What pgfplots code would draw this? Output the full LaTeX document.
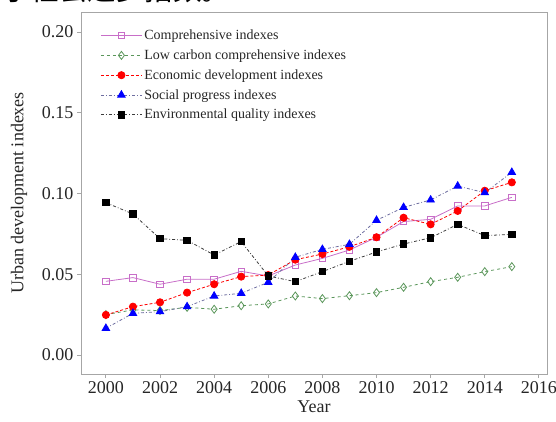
\documentclass[border=0pt]{standalone}
\usepackage{fontspec}
\setmainfont{Liberation Serif}
\newfontfamily\cjk{Noto Sans CJK SC}
\usepackage{pgfplots}
\pgfplotsset{compat=1.18}
\definecolor{compc}{RGB}{200,110,200}
\definecolor{lowc}{RGB}{90,150,90}
\definecolor{socline}{RGB}{110,110,160}
\definecolor{envline}{RGB}{60,60,60}
\begin{document}
\begin{tikzpicture}
\useasboundingbox (0pt,0pt) rectangle (556pt,421pt);
\node[anchor=base west, inner sep=0, font=\cjk\fontsize{28.5}{28.5}\selectfont] at (2pt,420pt) {于社会进步指数。};
\begin{axis}[
  at={(81pt,47pt)}, anchor=south west, scale only axis,
  width=466pt, height=362pt,
  xmin=1999.08, xmax=2016.3, ymin=-0.0118, ymax=0.2124,
  xtick={2000,2002,2004,2006,2008,2010,2012,2014,2016},
  ytick={0,0.05,0.1,0.15,0.2},
  /pgf/number format/assume math mode=true,
  xticklabel style={/pgf/number format/1000 sep={}},
  yticklabel style={/pgf/number format/.cd, fixed, fixed zerofill, precision=2},
  tick label style={font=\fontsize{18}{18}\selectfont, color=black!85},
  label style={font=\fontsize{18}{18}\selectfont, color=black!85},
  xlabel={Year}, ylabel={Urban development indexes},
  ylabel shift=8pt,
  tick align=outside, xtick pos=lower, ytick pos=left,
  major tick length=4pt,
  tick style={gray!70, line width=0.8pt},
  axis line style={gray!70, line width=0.9pt},
  legend style={at={(0.035,0.962)}, anchor=north west, draw=none, fill=none,
    font=\fontsize{14}{14}\selectfont, row sep=4.6pt, text=black!85},
  legend cell align=left,
  legend image code/.code={\draw[mark repeat=2,mark phase=2] plot coordinates {(0pt,0pt) (20.5pt,0pt) (41pt,0pt)};},
  every axis plot/.append style={line width=0.8pt},
]
\addplot[color=compc, solid, mark=square, mark size=3.3pt, mark options={solid, fill=white}] coordinates {
(2000,0.0456) (2001,0.0479) (2002,0.0438) (2003,0.0469) (2004,0.0469) (2005,0.0518) (2006,0.0489) (2007,0.0557)
(2008,0.0598) (2009,0.0650) (2010,0.0729) (2011,0.0826) (2012,0.0840) (2013,0.0923) (2014,0.0923) (2015,0.0976)};
\addlegendentry{Comprehensive indexes}
\addplot[color=lowc, dashed, mark=diamond, mark size=4pt, mark options={solid, fill=white}] coordinates {
(2000,0.0250) (2001,0.0279) (2002,0.0275) (2003,0.0295) (2004,0.0283) (2005,0.0305) (2006,0.0316) (2007,0.0365)
(2008,0.0349) (2009,0.0367) (2010,0.0386) (2011,0.0419) (2012,0.0454) (2013,0.0481) (2014,0.0516) (2015,0.0547)};
\addlegendentry{Low carbon comprehensive indexes}
\addplot[color=red, densely dashed, mark=*, mark size=3.6pt, mark options={solid, fill=red}] coordinates {
(2000,0.0248) (2001,0.0299) (2002,0.0326) (2003,0.0386) (2004,0.0438) (2005,0.0485) (2006,0.0495) (2007,0.0590)
(2008,0.0625) (2009,0.0670) (2010,0.0729) (2011,0.0850) (2012,0.0809) (2013,0.0892) (2014,0.1017) (2015,0.1069)};
\addlegendentry{Economic development indexes}
\addplot[color=socline, dash dot, mark=triangle*, mark size=4.3pt, mark options={solid, fill=blue, draw=blue}] coordinates {
(2000,0.0165) (2001,0.0258) (2002,0.0268) (2003,0.0299) (2004,0.0365) (2005,0.0382) (2006,0.0450) (2007,0.0605)
(2008,0.0654) (2009,0.0685) (2010,0.0834) (2011,0.0914) (2012,0.0960) (2013,0.1046) (2014,0.1005) (2015,0.1131)};
\addlegendentry{Social progress indexes}
\addplot[color=envline, dash dot, mark=square*, mark size=3.2pt, mark options={solid, fill=black, draw=black}] coordinates {
(2000,0.0943) (2001,0.0873) (2002,0.0720) (2003,0.0710) (2004,0.0619) (2005,0.0702) (2006,0.0489) (2007,0.0454)
(2008,0.0516) (2009,0.0580) (2010,0.0638) (2011,0.0687) (2012,0.0726) (2013,0.0809) (2014,0.0739) (2015,0.0747)};
\addlegendentry{Environmental quality indexes}
\end{axis}
\end{tikzpicture}
\end{document}
